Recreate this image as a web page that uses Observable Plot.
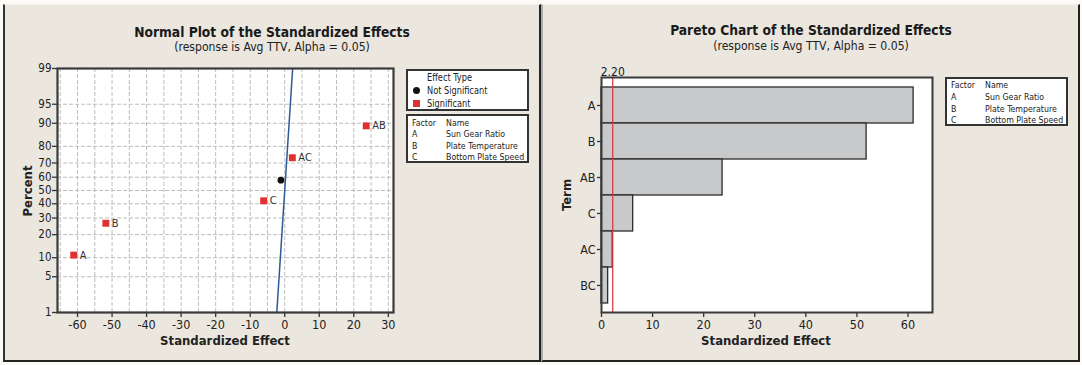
<!DOCTYPE html>
<html>
<head>
<meta charset="utf-8">
<script src="https://cdn.jsdelivr.net/npm/d3@7"></script>
<script src="https://cdn.jsdelivr.net/npm/@observablehq/plot@0.6"></script>
<style>
  html, body { margin: 0; padding: 0; background: #fbfaf7; }
  body { width: 1082px; height: 365px; position: relative; overflow: hidden;
         font-family: "DejaVu Sans Condensed", "Liberation Sans", sans-serif; color: #222; }
  .panel { position: absolute; background: #ebe7de; box-sizing: border-box; }
  .abs { position: absolute; white-space: nowrap; }
  .title { font-weight: bold; font-size: 13.7px; transform: translate(-50%, -50%); color: #1a1a1a; }
  .sub { font-size: 12.1px; transform: translate(-50%, -50%); color: #222; }
  .axlab { font-weight: bold; font-size: 13px; transform: translate(-50%, -50%); color: #222; }
  .box { position: absolute; background: #fff; box-sizing: border-box; border: 2px solid #333; }
  .lg { position: absolute; font-size: 9.5px; white-space: nowrap; transform: translateY(-50%) scaleX(0.92); transform-origin: left center; color: #222; }
  .lg2 { position: absolute; font-size: 11px; white-space: nowrap; transform: translateY(-50%) scaleX(0.83); transform-origin: left center; color: #222; }
  svg.plt { position: absolute; top: 0; }
</style>
</head>
<body>
<div class="panel" style="left:3px;top:4px;width:538px;height:358px;border-left:2px solid #333;border-right:2px solid #222;border-bottom:2px solid #222;border-top:1px solid #f4f2ec;"></div>
<div class="panel" style="left:541px;top:4px;width:539px;height:358px;border-left:2px solid #aaa;border-right:2px solid #222;border-bottom:2px solid #222;border-top:1px solid #f4f2ec;"></div>

<div id="left"></div>
<div id="right"></div>

<script>
// ---------------- data ----------------
const terms = ["A", "B", "AB", "C", "AC", "BC"];
const effects = [-61.1, -51.8, 23.6, -6.1, 2.2, -1.1];        // standardized effects (signed)
const paretoEffects = [61.1, 51.9, 23.7, 6.2, 2.2, 1.3];       // absolute effects for the Pareto chart
const percents = [10.9, 26.6, 42.2, 57.8, 73.4, 89.1];          // normal plot percent positions (order below)
const normalOrder = ["A", "B", "C", "BC", "AC", "AB"];
const significant = ["A", "B", "AB", "C", "AC"];
const fitEffect = [-2.3, 2.3];
const fitPercent = [1, 99];
const alphaLimit = 2.20;
const pctTicks = [1, 5, 10, 20, 30, 40, 50, 60, 70, 80, 90, 95, 99];
const xTicksNormal = [-60, -50, -40, -30, -20, -10, 0, 10, 20, 30];
const xGridNormal = [-65, -60, -55, -50, -45, -40, -35, -30, -25, -20, -15, -10, -5, 0, 5, 10, 15, 20, 25, 30];
const xTicksPareto = [0, 10, 20, 30, 40, 50, 60];
const factors = ["A", "B", "C"];
const factorNames = ["Sun Gear Ratio", "Plate Temperature", "Bottom Plate Speed"];

// inverse normal CDF (Acklam)
function probit(p) {
  const a = [-3.969683028665376e+01, 2.209460984245205e+02, -2.759285104469687e+02, 1.383577518672690e+02, -3.066479806614716e+01, 2.506628277459239e+00];
  const b = [-5.447609879822406e+01, 1.615858368580409e+02, -1.556989798598866e+02, 6.680131188771972e+01, -1.328068155288572e+01];
  const c = [-7.784894002430293e-03, -3.223964580411365e-01, -2.400758277161838e+00, -2.549732539343734e+00, 4.374664141464968e+00, 2.938163982698783e+00];
  const d = [7.784695709041462e-03, 3.224671290700398e-01, 2.445134137142996e+00, 3.754408661907416e+00];
  const pl = 0.02425, ph = 1 - pl;
  let q, r;
  if (p < pl) { q = Math.sqrt(-2 * Math.log(p)); return (((((c[0]*q+c[1])*q+c[2])*q+c[3])*q+c[4])*q+c[5]) / ((((d[0]*q+d[1])*q+d[2])*q+d[3])*q+1); }
  if (p <= ph) { q = p - 0.5; r = q*q; return (((((a[0]*r+a[1])*r+a[2])*r+a[3])*r+a[4])*r+a[5])*q / (((((b[0]*r+b[1])*r+b[2])*r+b[3])*r+b[4])*r+1); }
  q = Math.sqrt(-2 * Math.log(1 - p)); return -(((((c[0]*q+c[1])*q+c[2])*q+c[3])*q+c[4])*q+c[5]) / ((((d[0]*q+d[1])*q+d[2])*q+d[3])*q+1);
}

const effectByTerm = new Map(terms.map((t, i) => [t, effects[i]]));
const normalData = normalOrder.map((t, i) => ({
  term: t, effect: effectByTerm.get(t), z: probit(percents[i] / 100), sig: significant.includes(t)
}));
const fitData = fitEffect.map((e, i) => ({effect: e, z: probit(fitPercent[i] / 100)}));
const zTicks = pctTicks.map(p => probit(p / 100));
const zLabel = new Map(zTicks.map((z, i) => [z, String(pctTicks[i])]));
const zGrid = zTicks.slice(1, -1);

const FONT = '"DejaVu Sans Condensed", "Liberation Sans", sans-serif';

// ---------------- left: normal plot ----------------
const left = Plot.plot({
  width: 540, height: 365,
  marginLeft: 57, marginRight: 147, marginTop: 68, marginBottom: 53,
  style: {background: "transparent", fontFamily: FONT, color: "#222", overflow: "visible"},
  className: "plt",
  x: {domain: [-65.8, 31.5]},
  y: {domain: [probit(0.01), probit(0.99)]},
  marks: [
    Plot.frame({fill: "white", stroke: null}),
    Plot.ruleX(xGridNormal, {stroke: "#bdbdbd", strokeDasharray: "4,2", strokeWidth: 1}),
    Plot.ruleY(zGrid, {stroke: "#bdbdbd", strokeDasharray: "4,2", strokeWidth: 1}),
    Plot.line(fitData, {x: "effect", y: "z", stroke: "#2f5a95", strokeWidth: 1.5}),
    Plot.dot(normalData.filter(d => !d.sig), {x: "effect", y: "z", r: 3.4, fill: "#111", stroke: null}),
    Plot.dot(normalData.filter(d => d.sig), {x: "effect", y: "z", symbol: "square", r: 3.9, fill: "#e03030", stroke: null}),
    Plot.text(normalData.filter(d => d.sig), {x: "effect", y: "z", text: "term", dx: 6, textAnchor: "start", fontSize: 11, fill: "#333"}),
    Plot.axisX(xTicksNormal, {tickSize: 5, tickPadding: 3, fontSize: 12.5, label: null, tickFormat: d => String(d), stroke: "#333", strokeWidth: 1.3}),
    Plot.axisY(zTicks, {tickSize: 5, tickPadding: 1, fontSize: 11.5, label: null, tickFormat: z => zLabel.get(z), stroke: "#333", strokeWidth: 1.3}),
    Plot.frame({stroke: "#3a3a3a", strokeWidth: 2.2})
  ]
});
left.style.left = "0px";
document.getElementById("left").appendChild(left);

// ---------------- right: pareto chart ----------------
const paretoData = terms.map((t, i) => ({term: t, effect: paretoEffects[i]}));
const right = Plot.plot({
  width: 542, height: 365,
  marginLeft: 61, marginRight: 150, marginTop: 77, marginBottom: 53,
  style: {background: "transparent", fontFamily: FONT, color: "#222", overflow: "visible"},
  className: "plt",
  x: {domain: [0, 64.8]},
  y: {domain: terms, padding: 0, insetTop: 9, insetBottom: 9},
  marks: [
    Plot.frame({fill: "white", stroke: null}),
    Plot.barX(paretoData, {y: "term", x: "effect", fill: "#c8c9cb", stroke: "#2b2b2b", strokeWidth: 1.3}),
    Plot.ruleX([alphaLimit], {stroke: "#d9303a", strokeWidth: 1.2}),
    Plot.text([alphaLimit], {x: d => d, frameAnchor: "top", lineAnchor: "bottom", dy: -2, text: d => d3.format(".2f")(d), fontSize: 12, fill: "#222"}),
    Plot.axisX(xTicksPareto, {tickSize: 5, tickPadding: 3, fontSize: 12.5, label: null, tickFormat: d => String(d), stroke: "#333", strokeWidth: 1.3}),
    Plot.axisY({tickSize: 4, tickPadding: 2, fontSize: 12.5, label: null, stroke: "#333", strokeWidth: 1.3}),
    Plot.frame({stroke: "#3a3a3a", strokeWidth: 2})
  ]
});
right.style.left = "540px";
document.getElementById("right").appendChild(right);

// ---------------- HTML text: titles, axis labels, legends ----------------
function add(txt, cls, x, y, extra) {
  const el = document.createElement("div");
  el.className = cls;
  el.style.left = x + "px"; el.style.top = y + "px";
  if (extra) el.style.cssText += extra;
  el.textContent = txt;
  document.body.appendChild(el);
  return el;
}
add("Normal Plot of the Standardized Effects", "abs title", 272, 32);
add("(response is Avg TTV, Alpha = 0.05)", "abs sub", 272, 47);
add("Standardized Effect", "abs axlab", 225, 340);
add("Percent", "abs axlab", 27, 191, "transform: translate(-50%,-50%) rotate(-90deg);");

add("Pareto Chart of the Standardized Effects", "abs title", 811, 30);
add("(response is Avg TTV, Alpha = 0.05)", "abs sub", 811, 46);
add("Standardized Effect", "abs axlab", 766, 340);
add("Term", "abs axlab", 566, 195, "transform: translate(-50%,-50%) rotate(-90deg);");

function box(x, y, w, h) {
  const b = document.createElement("div");
  b.className = "box";
  b.style.left = x + "px"; b.style.top = y + "px"; b.style.width = w + "px"; b.style.height = h + "px";
  document.body.appendChild(b);
}
// Left legends
box(406, 69, 123, 42);
add("Effect Type", "lg2", 427, 77);
add("Not Significant", "lg2", 427, 90);
add("Significant", "lg2", 427, 103);
const dotEl = document.createElement("div");
dotEl.style.cssText = "position:absolute;left:412.5px;top:86.5px;width:7px;height:7px;border-radius:50%;background:#111;";
document.body.appendChild(dotEl);
const sqEl = document.createElement("div");
sqEl.style.cssText = "position:absolute;left:412.5px;top:99.5px;width:7px;height:7px;background:#e03030;";
document.body.appendChild(sqEl);

box(406, 114, 123, 49);
add("Factor", "lg", 412, 122);
add("Name", "lg", 446, 122);
factors.forEach((f, i) => {
  add(f, "lg", 412, 133 + i * 11.7);
  add(factorNames[i], "lg", 446, 133 + i * 11.7);
});

// Right legend
box(945, 77, 123, 49);
add("Factor", "lg", 951, 84);
add("Name", "lg", 985, 84);
factors.forEach((f, i) => {
  add(f, "lg", 951, 96 + i * 11.5);
  add(factorNames[i], "lg", 985, 96 + i * 11.5);
});
</script>
</body>
</html>
